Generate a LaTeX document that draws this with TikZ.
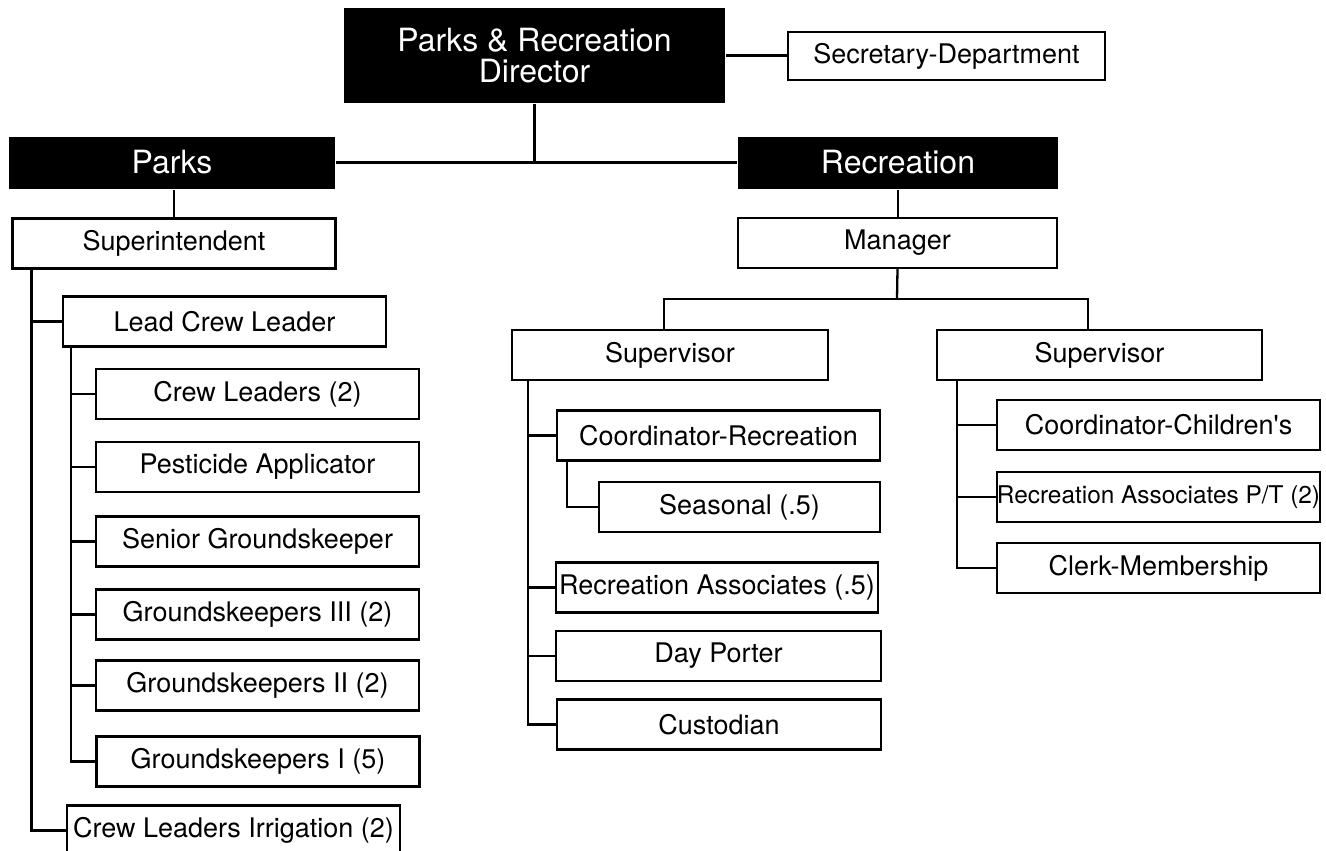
\documentclass[tikz,border=0pt]{standalone}
\usepackage{fontspec}
\setmainfont{TeX Gyre Heros}

\begin{document}
\begin{tikzpicture}[x=1pt,y=-1pt,line width=2.3pt,
    head/.style={fill=black,text=white,minimum height=52pt,inner sep=0pt,
      font=\fontsize{32}{31}\selectfont},
    job/.style={draw=black,fill=white,minimum width=323pt,minimum height=50pt,
      inner sep=0pt,font=\fontsize{27}{27}\selectfont}]
  \clip (0,0) rectangle (1326,851);

  % top of the department
  \node[head,minimum width=381pt,minimum height=95pt,align=center] (dir) at (534.5,55.5)
    {Parks \& Recreation\\Director};
  \node[job,minimum width=317pt,minimum height=48pt] (sec) at (946.5,56) {Secretary-Department};
  \draw (dir.east) -- (dir.east -| sec.west);

  \node[head,minimum width=326pt] (parks) at (172,162.5) {Parks};
  \node[head,minimum width=320pt] (rec) at (898,162.5) {Recreation};
  \draw (parks.east) -- (rec.west);
  \draw (dir.south) -- (dir.south |- rec.west);

  % parks division
  \node[job] (supt) at (174,243.5) {Superintendent};
  \draw (parks.south -| supt.north) -- (supt.north);
  \node[job] (lead) at (224.5,321.5) {Lead Crew Leader};
  \node[job] (crew) at (257.5,394) {Crew Leaders (2)};
  \node[job] (pest) at (257.5,467) {Pesticide Applicator};
  \node[job] (senior) at (257.5,541.5) {Senior Groundskeeper};
  \node[job] (gk3) at (257.5,614.5) {Groundskeepers III (2)};
  \node[job] (gk2) at (257.5,685.5) {Groundskeepers II (2)};
  \node[job] (gk1) at (258,761.5) {Groundskeepers I (5)};
  \node[job,minimum width=333pt] (irr) at (233.5,830.5) {Crew Leaders Irrigation (2)};

  \coordinate (tsupt) at ([xshift=20pt]supt.south west);
  \draw (tsupt) |- (irr.west);
  \draw (tsupt |- lead.west) -- (lead.west);

  \coordinate (tlead) at ([xshift=9pt]lead.south west);
  \draw (tlead) |- (gk1.west);
  \foreach \n in {crew,pest,senior,gk3,gk2}
    \draw (tlead |- \n.west) -- (\n.west);

  % recreation division
  \node[job,minimum width=319pt] (mgr) at (897.5,243) {Manager};
  \draw (rec.south) -- (rec.south |- mgr.north);
  \coordinate (mbus) at (897,299);
  \draw (mgr.south) -- (mbus);

  \node[job,minimum width=316pt] (supl) at (670,355) {Supervisor};
  \node[job,minimum width=325pt] (supr) at (1099.5,355) {Supervisor};
  \draw ([xshift=-6pt]supl.north) |- (mbus) -| ([xshift=-11.5pt]supr.north);

  \node[job] (coordrec) at (718.5,435.5) {Coordinator-Recreation};
  \node[job,minimum width=281pt] (seas) at (739.5,507) {Seasonal (.5)};
  \node[job,minimum width=322pt] (assoc) at (717,587.5) {Recreation Associates (.5)};
  \node[job,minimum width=325pt] (porter) at (718.5,656) {Day Porter};
  \node[job,minimum width=324pt] (cust) at (719,724.5) {Custodian};

  \coordinate (tsupl) at ([xshift=17pt]supl.south west);
  \draw (tsupl) |- (cust.west);
  \foreach \n in {coordrec,assoc,porter}
    \draw (tsupl |- \n.west) -- (\n.west);
  \draw ([xshift=11pt]coordrec.south west) |- (seas.west);

  \node[job] (child) at (1158.5,425) {Coordinator-Children\textquotesingle s};
  \node[job,font=\fontsize{24.4}{24}\selectfont] (assocpt) at (1158.5,497)
    {Recreation Associates P/T (2)};
  \node[job] (clerk) at (1158.5,568) {Clerk-Membership};

  \coordinate (tsupr) at ([xshift=21pt]supr.south west);
  \draw (tsupr) |- (clerk.west);
  \foreach \n in {child,assocpt}
    \draw (tsupr |- \n.west) -- (\n.west);
\end{tikzpicture}
\end{document}
